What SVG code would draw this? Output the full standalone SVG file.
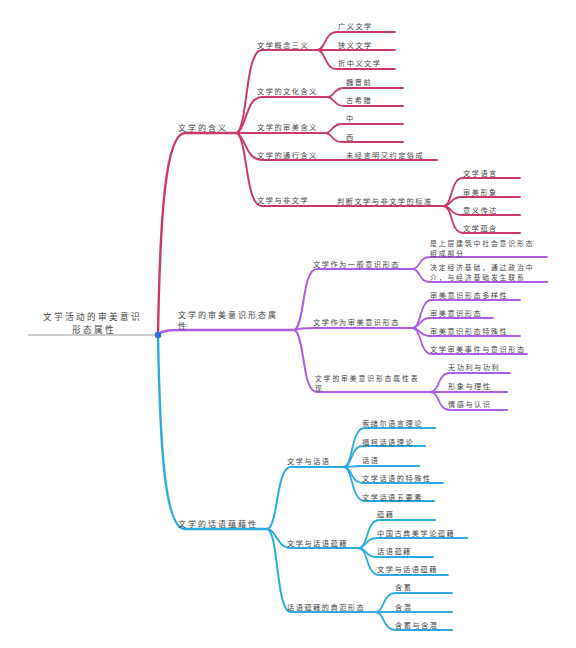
<svg xmlns="http://www.w3.org/2000/svg" width="576" height="648" viewBox="0 0 576 648">
<style>
.c{fill:none;stroke-linecap:round;stroke-linejoin:round}
.r{stroke:#c93a6b}
.p{stroke:#ab5ee2}
.b{stroke:#2eaae3}
.w1{stroke-width:2.4}
.w2{stroke-width:2}
.w3{stroke-width:1.8}
text{font-family:"Noto Sans CJK SC","Noto Sans",sans-serif;fill:#444}
.tr{font-size:8.6px;letter-spacing:2.4px}
.tm{font-size:8px;letter-spacing:2px}
.tl{font-size:7.2px;letter-spacing:1.5px}
.ts{font-size:6.8px;letter-spacing:1.9px}
</style>
<rect width="576" height="648" fill="#fff"/>
<g id="connectors">
<line x1="28" y1="335" x2="158" y2="335" stroke="#9a9a9a" stroke-width="1.2"/>
<path class="c r w1" d="M158,335 C160,220 165,133 185,133 L237,133"/>
<path class="c p w1" d="M158,335 C162,331 166,330 180,330 L295,330"/>
<path class="c b w1" d="M158,335 C160,450 165,529 185,529 L268,529"/>
<path class="c r w2" d="M237,133 C248,125 245,50 262,50 L317,50"/>
<path class="c r w2" d="M237,133 C247,127 246,97 262,97 L327,97"/>
<path class="c r w2" d="M237,133 L325,133"/>
<path class="c r w2" d="M237,133 C246,138 246,160 262,160 L437,160"/>
<path class="c r w2" d="M237,133 C248,141 245,206 262,206 L443,206"/>
<path class="c r w3" d="M317,50 C326,50 324,32 337,32 L395,32"/>
<path class="c r w3" d="M317,50 L395,50"/>
<path class="c r w3" d="M317,50 C326,50 324,69 337,69 L395,69"/>
<path class="c r w3" d="M327,97 C335,97 333,88 344,88 L403,88"/>
<path class="c r w3" d="M327,97 C335,97 333,106 344,106 L403,106"/>
<path class="c r w3" d="M325,133 C333,133 331,124 342,124 L403,124"/>
<path class="c r w3" d="M325,133 C333,133 331,142 342,142 L403,142"/>
<path class="c r w3" d="M443,206 C453,206 450,178 463,178 L520,178"/>
<path class="c r w3" d="M443,206 C452,206 450,197 461,197 L520,197"/>
<path class="c r w3" d="M443,206 C452,206 450,215 461,215 L520,215"/>
<path class="c r w3" d="M443,206 C453,206 450,233 463,233 L520,233"/>
<path class="c p w2" d="M295,330 C305,322 302,269 317,269 L412,269"/>
<path class="c p w2" d="M295,330 C300,328 305,328 315,328 L412,328"/>
<path class="c p w2" d="M295,330 C305,338 302,392 317,392 L430,392"/>
<path class="c p w3" d="M412,269 C421,269 418,257 430,257 L547,257"/>
<path class="c p w3" d="M412,269 C421,269 418,282 430,282 L547,282"/>
<path class="c p w3" d="M412,328 C422,328 419,300 432,300 L520,300"/>
<path class="c p w3" d="M412,328 C420,328 419,318 430,318 L493,318"/>
<path class="c p w3" d="M412,328 C420,328 419,336 430,336 L520,336"/>
<path class="c p w3" d="M412,328 C422,328 419,354 432,354 L527,354"/>
<path class="c p w3" d="M430,392 C440,392 437,373 450,373 L510,373"/>
<path class="c p w3" d="M430,392 L507,392"/>
<path class="c p w3" d="M430,392 C440,392 437,410 450,410 L507,410"/>
<path class="c b w2" d="M268,529 C279,521 276,467 291,467 L343,467"/>
<path class="c b w2" d="M268,529 C277,531 277,548 291,548 L358,548"/>
<path class="c b w2" d="M268,529 C279,537 276,612 291,612 L375,612"/>
<path class="c b w3" d="M343,467 C354,467 350,428 365,428 L435,428"/>
<path class="c b w3" d="M343,467 C353,467 350,446 363,446 L425,446"/>
<path class="c b w3" d="M343,467 C350,467 352,466 360,466 L419,466"/>
<path class="c b w3" d="M343,467 C353,467 350,483 363,483 L443,483"/>
<path class="c b w3" d="M343,467 C354,467 350,501 365,501 L434,501"/>
<path class="c b w3" d="M358,548 C369,548 365,520 380,520 L435,520"/>
<path class="c b w3" d="M358,548 C367,548 365,538 377,538 L467,538"/>
<path class="c b w3" d="M358,548 C367,548 365,557 377,557 L433,557"/>
<path class="c b w3" d="M358,548 C369,548 365,575 380,575 L448,575"/>
<path class="c b w3" d="M375,612 C385,612 382,593 396,593 L452,593"/>
<path class="c b w3" d="M375,612 L452,612"/>
<path class="c b w3" d="M375,612 C385,612 382,630 396,630 L452,630"/>
</g>
<g id="root"><text class="tr" x="43" y="320">文学活动的审美意识</text><text class="tr" x="72" y="332.5">形态属性</text><circle cx="158" cy="335" r="3.2" fill="#2272d6"/></g>
<g id="n1"><text class="tm" x="178" y="130.5">文学的含义</text></g>
<g id="n1-1"><text class="tl" x="257" y="47.5">文学概念三义</text></g>
<g id="n1-1-1"><text class="tl" x="338" y="29">广义文学</text></g>
<g id="n1-1-2"><text class="tl" x="338" y="47.5">狭义文学</text></g>
<g id="n1-1-3"><text class="tl" x="338" y="66">折中义文学</text></g>
<g id="n1-2"><text class="tl" x="257" y="94">文学的文化含义</text></g>
<g id="n1-2-1"><text class="tl" x="346" y="85">魏晋前</text></g>
<g id="n1-2-2"><text class="tl" x="346" y="103">古希腊</text></g>
<g id="n1-3"><text class="tl" x="257" y="130">文学的审美含义</text></g>
<g id="n1-3-1"><text class="tl" x="346" y="121">中</text></g>
<g id="n1-3-2"><text class="tl" x="346" y="139.5">西</text></g>
<g id="n1-4"><text class="tl" x="257" y="157.5">文学的通行含义</text></g>
<g id="n1-4-1"><text class="tl" x="346" y="157.5">未经言明又约定俗成</text></g>
<g id="n1-5"><text class="tl" x="257" y="203">文学与非文学</text></g>
<g id="n1-5-1"><text class="tl" x="337" y="203.5">判断文学与非文学的标准</text></g>
<g id="n1-5-1-1"><text class="tl" x="463" y="176">文学语言</text></g>
<g id="n1-5-1-2"><text class="tl" x="463" y="194.5">审美形象</text></g>
<g id="n1-5-1-3"><text class="tl" x="463" y="212.5">意义传达</text></g>
<g id="n1-5-1-4"><text class="tl" x="463" y="231">文学蕴含</text></g>
<g id="n2"><text class="tm" x="178" y="317.5">文学的审美意识形态属</text><text class="tm" x="178" y="328.5">性</text></g>
<g id="n2-1"><text class="tl" x="313" y="266.5">文学作为一般意识形态</text></g>
<g id="n2-1-1"><text class="ts" x="430" y="245.5">是上层建筑中社会意识形态</text><text class="ts" x="430" y="255.5">组成部分</text></g>
<g id="n2-1-2"><text class="ts" x="430" y="270">决定经济基础，通过政治中</text><text class="ts" x="430" y="280">介，与经济基础发生联系</text></g>
<g id="n2-2"><text class="tl" x="313" y="324.5">文学作为审美意识形态</text></g>
<g id="n2-2-1"><text class="tl" x="430" y="298">审美意识形态多样性</text></g>
<g id="n2-2-2"><text class="tl" x="430" y="316">审美意识形态</text></g>
<g id="n2-2-3"><text class="tl" x="430" y="333.5">审美意识形态特殊性</text></g>
<g id="n2-2-4"><text class="tl" x="430" y="351.5">文学审美事件与意识形态</text></g>
<g id="n2-3"><text class="ts" x="315" y="380.5">文学的审美意识形态属性表</text><text class="ts" x="315" y="390.5">现</text></g>
<g id="n2-3-1"><text class="tl" x="448" y="370">无功利与功利</text></g>
<g id="n2-3-2"><text class="tl" x="448" y="389">形象与理性</text></g>
<g id="n2-3-3"><text class="tl" x="448" y="407">情感与认识</text></g>
<g id="n3"><text class="tm" x="178" y="527">文学的话语蕴藉性</text></g>
<g id="n3-1"><text class="tl" x="287" y="463.5">文学与话语</text></g>
<g id="n3-1-1"><text class="tl" x="362" y="426">索绪尔语言理论</text></g>
<g id="n3-1-2"><text class="tl" x="362" y="444.5">福柯话语理论</text></g>
<g id="n3-1-3"><text class="tl" x="362" y="463">话语</text></g>
<g id="n3-1-4"><text class="tl" x="362" y="481">文学话语的特殊性</text></g>
<g id="n3-1-5"><text class="tl" x="362" y="499.5">文学话语五要素</text></g>
<g id="n3-2"><text class="tl" x="287" y="546">文学与话语蕴藉</text></g>
<g id="n3-2-1"><text class="tl" x="377" y="517">蕴藉</text></g>
<g id="n3-2-2"><text class="tl" x="377" y="535.5">中国古典美学论蕴藉</text></g>
<g id="n3-2-3"><text class="tl" x="377" y="554">话语蕴藉</text></g>
<g id="n3-2-4"><text class="tl" x="377" y="572">文学与话语蕴藉</text></g>
<g id="n3-3"><text class="tl" x="287" y="610">话语蕴藉的典范形态</text></g>
<g id="n3-3-1"><text class="tl" x="395" y="590">含蓄</text></g>
<g id="n3-3-2"><text class="tl" x="395" y="609.5">含混</text></g>
<g id="n3-3-3"><text class="tl" x="395" y="628">含蓄与含混</text></g>
</svg>
